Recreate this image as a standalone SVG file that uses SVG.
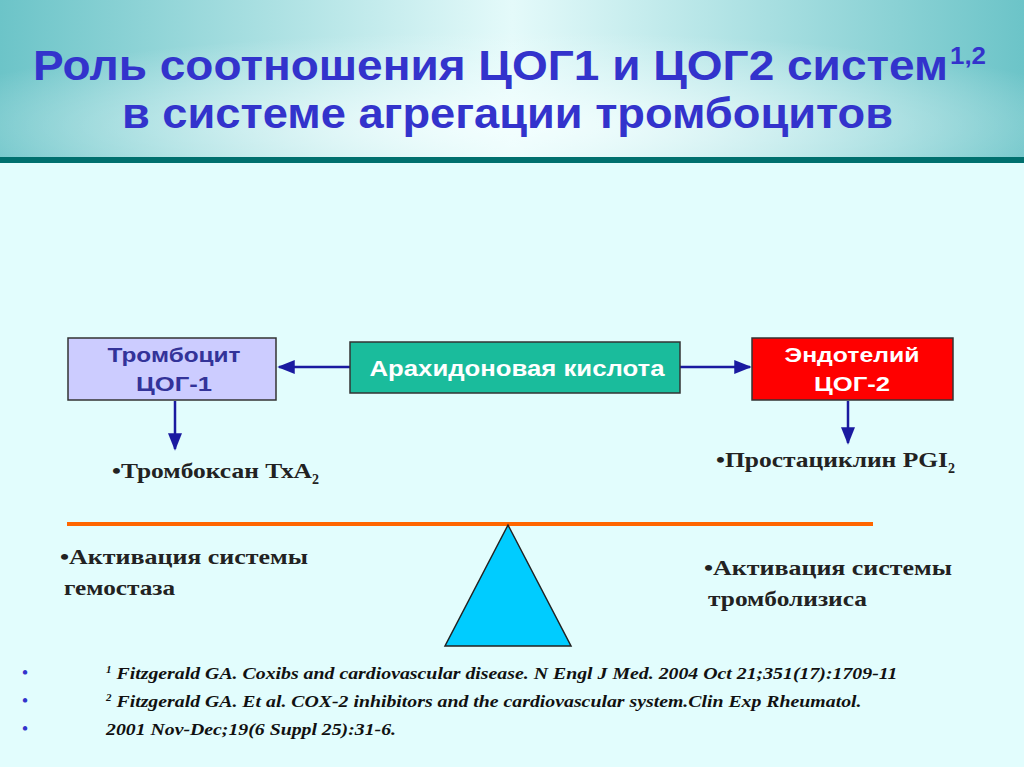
<svg xmlns="http://www.w3.org/2000/svg" width="1024" height="767" viewBox="0 0 1024 767">
<defs>
<linearGradient id="hd" x1="0" y1="0" x2="1" y2="0">
<stop offset="0" stop-color="#6cc4c8"/><stop offset="0.5" stop-color="#e4fafa"/><stop offset="1" stop-color="#6cc4c8"/>
</linearGradient>
<radialGradient id="hg" cx="0.5" cy="0.8" r="0.6">
<stop offset="0" stop-color="#f4ffff" stop-opacity="0.9"/><stop offset="1" stop-color="#f4ffff" stop-opacity="0"/>
</radialGradient>
<marker id="ah" viewBox="0 0 10 10" refX="9" refY="5" markerWidth="7" markerHeight="7" orient="auto-start-reverse"><path d="M0,1 L10,5 L0,9 z" fill="#1a1aa0"/></marker>
<style>
.t{font-family:"Liberation Sans",Arial,sans-serif;font-weight:bold}
.s{font-family:"Liberation Serif","Times New Roman",serif;font-weight:bold}
.c{stroke:#1a1aa0;stroke-width:2.5;fill:none}
.box{stroke:#333;stroke-width:1.5}
</style>
</defs>
<rect width="1024" height="767" fill="#e2fdfd"/>
<rect width="1024" height="157" fill="url(#hd)"/>
<rect width="1024" height="157" fill="url(#hg)"/>
<rect y="157" width="1024" height="6" fill="#00706e"/>
<text class="t" x="33" y="80" font-size="42" fill="#3333cc" textLength="915" lengthAdjust="spacingAndGlyphs">Роль соотношения ЦОГ1 и ЦОГ2 систем</text>
<text class="t" x="950" y="64" font-size="24" fill="#3333cc" textLength="36" lengthAdjust="spacingAndGlyphs">1,2</text>
<text class="t" x="122" y="128" font-size="42" fill="#3333cc" textLength="771" lengthAdjust="spacingAndGlyphs">в системе агрегации тромбоцитов</text>
<g id="connectors">
<line class="c" x1="350" y1="367" x2="279" y2="367" marker-end="url(#ah)"/>
<line class="c" x1="680" y1="367" x2="750" y2="367" marker-end="url(#ah)"/>
<line class="c" x1="175" y1="401" x2="175" y2="449" marker-end="url(#ah)"/>
<line class="c" x1="848" y1="401" x2="848" y2="443" marker-end="url(#ah)"/>
</g>
<g id="n1"><rect class="box" x="68" y="338" width="208" height="62" fill="#ccccff"/>
<text class="t" x="174" y="362" text-anchor="middle" font-size="21" fill="#333399" textLength="133" lengthAdjust="spacingAndGlyphs">Тромбоцит</text>
<text class="t" x="174" y="391" text-anchor="middle" font-size="21" fill="#333399" textLength="76" lengthAdjust="spacingAndGlyphs">ЦОГ-1</text></g>
<g id="n2"><rect class="box" x="350" y="342" width="330" height="51" fill="#1abc9c"/>
<text class="t" x="517" y="376" text-anchor="middle" font-size="22" fill="#ffffff" textLength="295" lengthAdjust="spacingAndGlyphs">Арахидоновая кислота</text></g>
<g id="n3"><rect class="box" x="752" y="338" width="201" height="62" fill="#ff0000"/>
<text class="t" x="852" y="362" text-anchor="middle" font-size="21" fill="#ffffff" textLength="135" lengthAdjust="spacingAndGlyphs">Эндотелий</text>
<text class="t" x="852" y="391" text-anchor="middle" font-size="21" fill="#ffffff" textLength="76" lengthAdjust="spacingAndGlyphs">ЦОГ-2</text></g>
<text class="s" x="112" y="478" font-size="21" fill="#222"><tspan textLength="200" lengthAdjust="spacingAndGlyphs">•Тромбоксан ТхА</tspan><tspan dy="6" font-size="14">2</tspan></text>
<text class="s" x="716" y="467" font-size="21" fill="#222"><tspan textLength="232" lengthAdjust="spacingAndGlyphs">•Простациклин PGI</tspan><tspan dy="6" font-size="14">2</tspan></text>
<line x1="67" y1="524" x2="873" y2="524" stroke="#ff6600" stroke-width="4"/>
<polygon points="508,525 445,646 571,646" fill="#00ccff" stroke="#222" stroke-width="1.5"/>
<text class="s" x="60" y="564" font-size="21" fill="#222" textLength="248" lengthAdjust="spacingAndGlyphs">•Активация системы</text>
<text class="s" x="64" y="595" font-size="21" fill="#222" textLength="111" lengthAdjust="spacingAndGlyphs">гемостаза</text>
<text class="s" x="704" y="575" font-size="21" fill="#222" textLength="248" lengthAdjust="spacingAndGlyphs">•Активация системы</text>
<text class="s" x="708" y="606" font-size="21" fill="#222" textLength="159" lengthAdjust="spacingAndGlyphs">тромболизиса</text>
<g font-family="Liberation Serif,serif" font-style="italic" font-weight="bold" font-size="16.5" fill="#111">
<text x="22" y="678" fill="#3333cc">•</text><text x="22" y="706" fill="#3333cc">•</text><text x="22" y="734" fill="#3333cc">•</text>
<text x="106" y="679"><tspan font-size="11" dy="-6">1</tspan><tspan dy="6" textLength="786" lengthAdjust="spacingAndGlyphs"> Fitzgerald GA. Coxibs and cardiovascular disease. N Engl J Med. 2004 Oct 21;351(17):1709-11</tspan></text>
<text x="106" y="707"><tspan font-size="11" dy="-6">2</tspan><tspan dy="6" textLength="750" lengthAdjust="spacingAndGlyphs"> Fitzgerald GA. Et al. COX-2 inhibitors and the cardiovascular system.Clin Exp Rheumatol.</tspan></text>
<text x="106" y="735" textLength="290" lengthAdjust="spacingAndGlyphs">2001 Nov-Dec;19(6 Suppl 25):31-6.</text>
</g>
</svg>
